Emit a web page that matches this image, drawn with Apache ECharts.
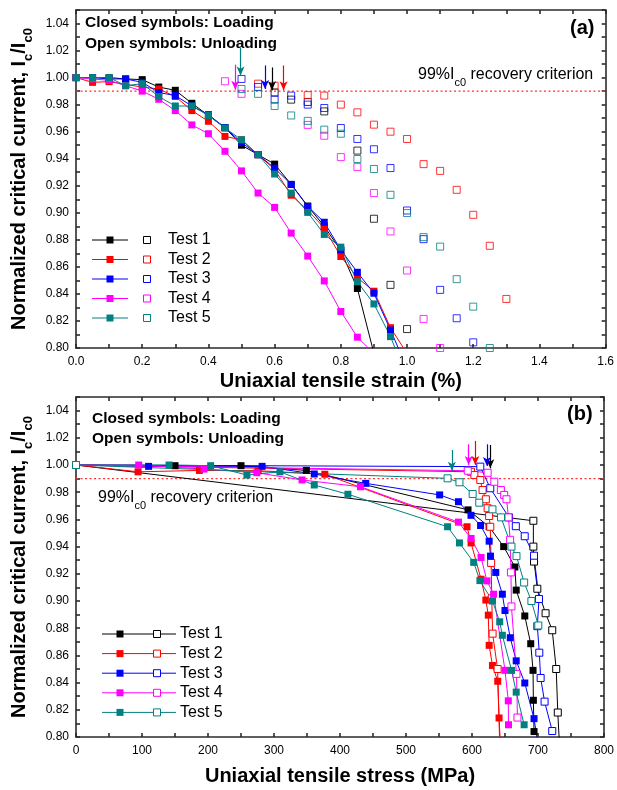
<!DOCTYPE html>
<html>
<head>
<meta charset="utf-8">
<script src="https://cdn.jsdelivr.net/npm/echarts@6/dist/echarts.min.js"></script>
<style>
html,body{margin:0;padding:0;background:#ffffff}
#chart{width:617px;height:790px}
</style>
</head>
<body>
<div id="chart"></div>
<script>
const FONT = "'Liberation Sans', Arial, sans-serif";
const testNames = ['Test 1', 'Test 2', 'Test 3', 'Test 4', 'Test 5'];
const testColors = ['#000000', '#ff0000', '#0000ff', '#ff00ff', '#008080'];

// Axis ranges
const strainRange = [0, 1.6];
const stressRange = [0, 800];
const icRange = [0.80, 1.05];
const criterion = 0.99;

// ---- (a) Ic vs strain ----
const strainSteps = [0, 0.05, 0.10, 0.15, 0.20, 0.25, 0.30, 0.35, 0.40, 0.45, 0.50,
                     0.55, 0.60, 0.65, 0.70, 0.75, 0.80, 0.85, 0.90, 0.95, 1.00];
const loadA1 = [1.000, 1.000, 1.000, 0.999, 0.9985, 0.993, 0.9906, 0.981, 0.972, 0.963, 0.950, 0.943, 0.936, 0.921, 0.905, 0.890, 0.872, 0.844, 0.796];
const loadA2 = [1.000, 0.9965, 0.997, 0.995, 0.993, 0.9916, 0.986, 0.9756, 0.9677, 0.9565, 0.954, 0.943, 0.932, 0.913, 0.902, 0.8887, 0.8677, 0.852, 0.842, 0.815, 0.796];
const loadA3 = [1.000, 1.000, 0.999, 0.999, 0.9965, 0.989, 0.9867, 0.979, 0.9726, 0.963, 0.952, 0.943, 0.933, 0.921, 0.9047, 0.893, 0.8726, 0.856, 0.8405, 0.8133, 0.785];
const loadA4 = [1.000, 0.999, 0.998, 0.994, 0.990, 0.984, 0.9756, 0.965, 0.9585, 0.9455, 0.931, 0.9146, 0.904, 0.885, 0.868, 0.8496, 0.827, 0.808, 0.796];
const loadA5 = [1.000, 1.000, 1.000, 0.994, 0.9955, 0.986, 0.979, 0.979, 0.972, 0.9627, 0.954, 0.943, 0.9287, 0.9146, 0.9003, 0.884, 0.8746, 0.849, 0.8326, 0.8084, 0.778];

const unloadStrainA1 = [0.60, 0.65, 0.70, 0.75, 0.85, 0.90, 0.95, 1.00];
const unloadA1 = [0.989, 0.9837, 0.982, 0.975, 0.946, 0.8956, 0.8467, 0.814];
const unloadStrainA2 = [0.55, 0.60, 0.70, 0.75, 0.80, 0.85, 0.90, 0.95, 1.00, 1.05, 1.10, 1.15, 1.20, 1.25, 1.30];
const unloadA2 = [0.9955, 0.994, 0.987, 0.9867, 0.980, 0.9743, 0.9652, 0.960, 0.9546, 0.936, 0.931, 0.917, 0.8985, 0.8756, 0.8363];
const unloadStrainA3 = [0.50, 0.55, 0.60, 0.65, 0.70, 0.75, 0.80, 0.85, 0.90, 0.95, 1.00, 1.05, 1.10, 1.15, 1.20];
const unloadA3 = [0.999, 0.993, 0.9837, 0.9867, 0.980, 0.9775, 0.9627, 0.9546, 0.947, 0.9331, 0.9017, 0.8805, 0.843, 0.822, 0.8042];
const unloadStrainA4 = [0.45, 0.50, 0.70, 0.75, 0.80, 0.85, 0.90, 0.95, 1.00, 1.05, 1.10];
const unloadA4 = [0.9973, 0.988, 0.965, 0.957, 0.9412, 0.9338, 0.9146, 0.8862, 0.8573, 0.8215, 0.800];
const unloadStrainA5 = [0.50, 0.55, 0.60, 0.65, 0.70, 0.75, 0.80, 0.85, 0.90, 0.95, 1.00, 1.05, 1.10, 1.15, 1.20, 1.25];
const unloadA5 = [0.9916, 0.988, 0.979, 0.972, 0.968, 0.9615, 0.9585, 0.9398, 0.9324, 0.9133, 0.8998, 0.882, 0.875, 0.8509, 0.8306, 0.800];

// irreversible strain limit arrows (a), per test
const arrowStrainA = [0.592, 0.627, 0.571, 0.481, 0.497];
const arrowTailA = [1.0075, 1.009, 1.009, 1.0095, 1.022];
const arrowTipA = [0.9906, 0.9906, 0.9916, 0.991, 1.0015];

// ---- (b) Ic vs stress ----
const stressLoadB1 = [0, 150, 250, 349, 594, 626, 648, 665, 667, 680, 689, 692.5, 693, 694];
const icLoadB1 = [1.000, 0.9995, 0.9995, 0.996, 0.967, 0.9546, 0.940, 0.925, 0.908, 0.889, 0.8686, 0.849, 0.827, 0.804];
const stressLoadB2 = [0, 94, 187, 276, 377, 592.5, 598.6, 613.7, 621, 624.7, 626, 631, 639, 641, 643];
const icLoadB2 = [1.000, 0.995, 0.996, 0.9958, 0.9932, 0.9546, 0.9427, 0.916, 0.9007, 0.8896, 0.8674, 0.8526, 0.841, 0.814, 0.795];
const stressLoadB3 = [0, 110, 282, 361, 439, 551, 579.5, 598.5, 613, 626, 628, 636, 646, 650, 658, 667, 680, 694, 700];
const icLoadB3 = [1.000, 0.999, 0.999, 0.9934, 0.9865, 0.978, 0.973, 0.963, 0.9555, 0.944, 0.933, 0.921, 0.905, 0.893, 0.873, 0.856, 0.8397, 0.8135, 0.795];
const stressLoadB4 = [0, 95, 194, 274, 342.5, 431, 579.5, 598.6, 613.7, 622.7, 632.7, 650, 655, 655.3];
const icLoadB4 = [1.000, 1.000, 0.997, 0.9943, 0.989, 0.984, 0.958, 0.946, 0.932, 0.9148, 0.905, 0.849, 0.8266, 0.809];
const stressLoadB5 = [0, 141, 204, 259, 309, 361, 412, 563, 581, 602.6, 612, 631, 642, 646, 660, 667, 679];
const icLoadB5 = [1.000, 1.000, 0.9995, 0.9926, 0.995, 0.9853, 0.9785, 0.9546, 0.9427, 0.9284, 0.915, 0.900, 0.8847, 0.8748, 0.849, 0.833, 0.809];

const stressOpenB1 = [0, 693, 693, 694, 699, 711.5, 721.6, 727.6, 730, 733];
const icOpenB1 = [1.000, 0.959, 0.940, 0.929, 0.909, 0.891, 0.8785, 0.850, 0.818, 0.790];
const stressOpenB2 = [0, 598.5, 603.6, 612.6, 616, 621, 623.7, 626, 627.7, 629, 630, 631.2, 638.8, 642];
const icOpenB2 = [1.000, 0.995, 0.9926, 0.989, 0.9816, 0.9748, 0.9682, 0.9625, 0.9546, 0.928, 0.902, 0.876, 0.850, 0.795];
const stressOpenB3 = [0, 612.6, 627.7, 656, 666.4, 679.9, 694, 701.5, 699, 702, 704, 710, 721.6];
const icOpenB3 = [1.000, 0.9988, 0.9829, 0.9615, 0.955, 0.9476, 0.9333, 0.9015, 0.8815, 0.862, 0.8434, 0.826, 0.8044];
const stressOpenB4 = [0, 593.6, 623.7, 633.8, 643.8, 648.8, 652.3, 655.3, 657.8, 659, 659.8, 667.4, 668.9];
const icOpenB4 = [1.000, 0.9958, 0.9943, 0.9877, 0.9816, 0.978, 0.9748, 0.9615, 0.945, 0.921, 0.896, 0.8464, 0.8143];
const stressOpenB5 = [0, 563, 581, 601, 611, 631, 644, 659.8, 667.4, 679, 690, 700.5];
const icOpenB5 = [1.000, 0.9902, 0.9873, 0.9787, 0.9723, 0.9674, 0.9615, 0.940, 0.933, 0.9136, 0.900, 0.882];

const arrowStressB = [627.7, 605, 622.6, 595, 569.5];
const arrowTailB = [1.0147, 1.0177, 1.0152, 1.0152, 1.011];
const arrowTipB = [0.9976, 1.000, 0.9993, 1.000, 0.9958];

const loadA = [loadA1, loadA2, loadA3, loadA4, loadA5];
const unloadStrainA = [unloadStrainA1, unloadStrainA2, unloadStrainA3, unloadStrainA4, unloadStrainA5];
const unloadA = [unloadA1, unloadA2, unloadA3, unloadA4, unloadA5];
const stressLoadB = [stressLoadB1, stressLoadB2, stressLoadB3, stressLoadB4, stressLoadB5];
const icLoadB = [icLoadB1, icLoadB2, icLoadB3, icLoadB4, icLoadB5];
const stressOpenB = [stressOpenB1, stressOpenB2, stressOpenB3, stressOpenB4, stressOpenB5];
const icOpenB = [icOpenB1, icOpenB2, icOpenB3, icOpenB4, icOpenB5];

function pairs(xs, ys) { return ys.map((y, i) => [xs[i], y]); }

// downward arrow marking the recovery limit of one test
function arrowMark(color, x, tail, tip) {
  return {
    silent: true,
    animation: false,
    symbol: ['none', 'arrow'],
    symbolSize: 8,
    precision: 4,
    label: { show: false },
    lineStyle: { color: color, width: 1.2, type: 'solid', opacity: 1 },
    itemStyle: { color: color },
    emphasis: { disabled: true },
    data: [[
      { coord: [x, tail], symbol: 'none' },
      { coord: [x, tip], symbol: 'arrow', symbolSize: [6, 9] }
    ]]
  };
}

const series = [];

// 99 % recovery criterion lines
series.push({
  type: 'line', xAxisIndex: 0, yAxisIndex: 0, silent: true, symbol: 'none', z: 1,
  data: [[strainRange[0], criterion], [strainRange[1], criterion]],
  lineStyle: { color: '#ff3333', width: 1.3, type: [2, 2.5] }
});
series.push({
  type: 'line', xAxisIndex: 2, yAxisIndex: 2, silent: true, symbol: 'none', z: 1,
  data: [[stressRange[0], criterion], [stressRange[1], criterion]],
  lineStyle: { color: '#ff3333', width: 1.3, type: [2, 2.5] }
});

testNames.forEach((name, t) => {
  const c = testColors[t];
  // (a) loading: filled squares joined by lines
  series.push({
    name: name, type: 'line', xAxisIndex: 0, yAxisIndex: 0,
    data: pairs(strainSteps, loadA[t]),
    symbol: 'rect', symbolSize: 7, showAllSymbol: true, z: 3,
    lineStyle: { color: c, width: 1 },
    itemStyle: { color: c, borderWidth: 0 },
    markLine: arrowMark(c, arrowStrainA[t], arrowTailA[t], arrowTipA[t])
  });
  // (a) unloading: open squares
  series.push({
    name: name, type: 'scatter', xAxisIndex: 0, yAxisIndex: 0,
    data: pairs(unloadStrainA[t], unloadA[t]),
    symbol: 'rect', symbolSize: 7, z: 4,
    itemStyle: { color: 'rgba(255,255,255,0)', borderColor: c, borderWidth: 1 }
  });
  // (b) loading
  series.push({
    name: name, type: 'line', xAxisIndex: 2, yAxisIndex: 2,
    data: pairs(stressLoadB[t], icLoadB[t]),
    symbol: 'rect', symbolSize: 7, showAllSymbol: true, z: 3,
    lineStyle: { color: c, width: 1 },
    itemStyle: { color: c, borderWidth: 0 },
    markLine: arrowMark(c, arrowStressB[t], arrowTailB[t], arrowTipB[t])
  });
  // (b) unloading
  series.push({
    name: name, type: 'line', xAxisIndex: 2, yAxisIndex: 2,
    data: pairs(stressOpenB[t], icOpenB[t]),
    symbol: 'rect', symbolSize: 7, showAllSymbol: true, z: 3,
    lineStyle: { color: c, width: 1 },
    itemStyle: { color: '#ffffff', borderColor: c, borderWidth: 1 }
  });
});

const axisLineStyle = { color: '#2b2b2b', width: 1.6 };
const labelStyle = { color: '#000', fontFamily: FONT, fontSize: 12 };

function icFormatter(v) {
  const k = Math.round(v * 100);
  return (k % 2 === 0 && Math.abs(v * 100 - k) < 1e-6) ? (k / 100).toFixed(2) : '';
}

function yAxes(grid) {
  return [{
    type: 'value', gridIndex: grid, position: 'left',
    min: icRange[0], max: icRange[1], interval: 0.01,
    axisLine: { show: true, onZero: false, lineStyle: axisLineStyle },
    axisTick: { show: true, inside: true, length: 4, lineStyle: axisLineStyle },
    splitLine: { show: false },
    axisLabel: Object.assign({ margin: 7, formatter: icFormatter }, labelStyle),
    name: '{m|Normalized critical current, I}{s|c}{m|/I}{s|c0}',
    nameLocation: 'middle', nameRotate: 90, nameGap: 40,
    nameTextStyle: {
      rich: {
        m: { fontFamily: FONT, fontSize: 20, fontWeight: 'bold', color: '#000', lineHeight: 30, verticalAlign: 'middle' },
        s: { fontFamily: FONT, fontSize: 13, fontWeight: 'bold', color: '#000', lineHeight: 30, verticalAlign: 'bottom' }
      }
    }
  }, {
    type: 'value', gridIndex: grid, position: 'right',
    min: icRange[0], max: icRange[1], interval: 0.01,
    axisLine: { show: true, onZero: false, lineStyle: axisLineStyle },
    axisTick: { show: true, inside: true, length: 4, lineStyle: axisLineStyle },
    splitLine: { show: false },
    axisLabel: { show: false }
  }];
}

function xAxes(grid, range, interval, labelEvery, digits, name, gap) {
  const fmt = v => {
    const k = Math.round(v / interval);
    return (k % labelEvery === 0) ? v.toFixed(digits) : '';
  };
  return [{
    type: 'value', gridIndex: grid, position: 'bottom',
    min: range[0], max: range[1], interval: interval,
    axisLine: { show: true, onZero: false, lineStyle: axisLineStyle },
    axisTick: { show: true, inside: true, length: 4, lineStyle: axisLineStyle },
    splitLine: { show: false },
    axisLabel: Object.assign({ margin: 8, formatter: fmt }, labelStyle),
    name: name, nameLocation: 'middle', nameGap: gap,
    nameTextStyle: { fontFamily: FONT, fontSize: 20, fontWeight: 'bold', color: '#000' }
  }, {
    type: 'value', gridIndex: grid, position: 'top',
    min: range[0], max: range[1], interval: interval,
    axisLine: { show: true, onZero: false, lineStyle: axisLineStyle },
    axisTick: { show: true, inside: true, length: 4, lineStyle: axisLineStyle },
    splitLine: { show: false },
    axisLabel: { show: false }
  }];
}

// legend glyphs and annotation texts
const graphics = [];
function legendBlock(x0, x1, xFill, xOpen, xText, y0, dy) {
  testNames.forEach((name, t) => {
    const c = testColors[t];
    const y = y0 + t * dy;
    graphics.push({ type: 'line', shape: { x1: x0, y1: y, x2: x1, y2: y }, style: { stroke: c, lineWidth: 1 }, silent: true });
    graphics.push({ type: 'rect', shape: { x: xFill - 3.5, y: y - 3.5, width: 7, height: 7 }, style: { fill: c }, silent: true });
    graphics.push({ type: 'rect', shape: { x: xOpen - 3.5, y: y - 3.5, width: 7, height: 7 }, style: { fill: '#fff', stroke: c, lineWidth: 1 }, silent: true });
    graphics.push({ type: 'text', x: xText, y: y, style: { text: name, font: '16px ' + FONT, fill: '#000', verticalAlign: 'middle' }, silent: true });
  });
}
legendBlock(92, 128, 110, 147, 168, 240, 19.5);
legendBlock(102, 176, 120, 157, 180, 634, 19.6);

function boldText(x, y, text, size) {
  graphics.push({ type: 'text', x: x, y: y, silent: true,
    style: { text: text, font: 'bold ' + size + 'px ' + FONT, fill: '#000', verticalAlign: 'middle' } });
}
boldText(85, 23, 'Closed symbols: Loading', 15.5);
boldText(85, 43.5, 'Open symbols: Unloading', 15.5);
boldText(92, 419, 'Closed symbols: Loading', 15.5);
boldText(92, 439, 'Open symbols: Unloading', 15.5);
boldText(570, 28, '(a)', 20);
boldText(567, 414, '(b)', 20);

function criterionText(x, y) {
  graphics.push({ type: 'text', x: x, y: y, silent: true,
    style: {
      text: '{m|99%I}{s|c0}{m| recovery criterion}',
      verticalAlign: 'middle',
      rich: {
        m: { fontFamily: FONT, fontSize: 16, fill: '#000', color: '#000', lineHeight: 26, verticalAlign: 'middle' },
        s: { fontFamily: FONT, fontSize: 11, fill: '#000', color: '#000', lineHeight: 26, verticalAlign: 'bottom' }
      }
    } });
}
criterionText(418, 75);
criterionText(98, 498);

const chart = echarts.init(document.getElementById('chart'), null, { renderer: 'canvas' });
chart.setOption({
  animation: false,
  backgroundColor: '#ffffff',
  grid: [
    { left: 76, right: 10, top: 10, height: 338, containLabel: false },
    { left: 76, right: 10, top: 397, height: 340, containLabel: false }
  ],
  xAxis: [].concat(
    xAxes(0, strainRange, 0.1, 2, 1, 'Uniaxial tensile strain (%)', 23),
    xAxes(1, stressRange, 50, 2, 0, 'Uniaxial tensile stress (MPa)', 29)
  ),
  yAxis: [].concat(yAxes(0), yAxes(1)),
  series: series,
  graphic: graphics
});
</script>
</body>
</html>
